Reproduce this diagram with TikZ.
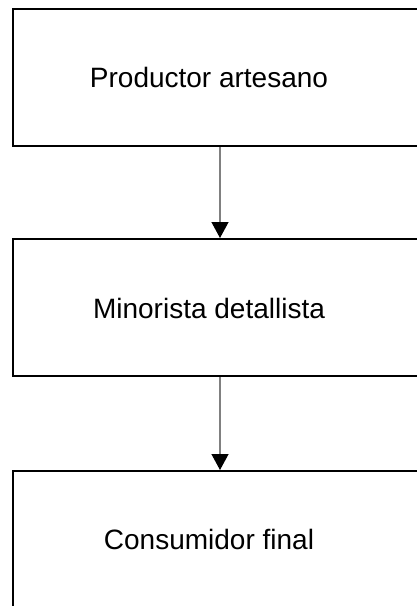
\documentclass[tikz,border=0pt]{standalone}
\usetikzlibrary{arrows.meta,positioning}
\usepackage{fontspec}
\setmainfont{Liberation Sans}

\begin{document}
\begin{tikzpicture}[x=1pt,y=-1pt,
  every node/.style={inner sep=0pt},
  stage/.style={draw=black,line width=2pt,rectangle,minimum width=417pt,minimum height=137pt},
  caption/.style={anchor=base,font=\fontsize{28}{32}\selectfont},
  flow/.style={draw=gray,line width=1.3pt,-{Triangle[width=17pt,length=16pt,color=black]}}]
\useasboundingbox (0,0) rectangle (417,606);
\clip (0,0) rectangle (417,606);
\node (prod) [stage] at (221.5,77.5) {};
\node (mino) [stage] at (221.5,307.5) {};
\node (cons) [stage] at (221.5,539.5) {};
\node (prodtxt) [caption] at (209,87) {Productor artesano};
\node (minotxt) [caption] at (209,318) {Minorista detallista};
\node (constxt) [caption] at (209,549) {Consumidor final};
\draw [flow] (prod.south -| 220,0) -- (mino.north -| 220,0);
\draw [flow] (mino.south -| 220,0) -- (cons.north -| 220,0);
\end{tikzpicture}
\end{document}
